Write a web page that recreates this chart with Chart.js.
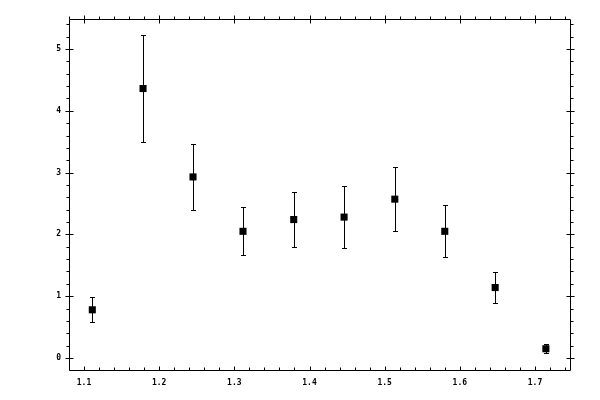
<!DOCTYPE html>
<html>
<head>
<meta charset="utf-8">
<script src="https://cdn.jsdelivr.net/npm/chart.js@4.4.1/dist/chart.umd.min.js"></script>
<style>
  html, body { margin: 0; padding: 0; background: #fff; }
  canvas { display: block; }
</style>
</head>
<body>
<canvas id="errChart" width="600" height="400"></canvas>
<script>
// data
const xVals = [1.111, 1.1785, 1.245, 1.3115, 1.379, 1.446, 1.5135, 1.580, 1.647, 1.7145];
const yVals = [0.78, 4.36, 2.93, 2.05, 2.24, 2.28, 2.57, 2.05, 1.14, 0.15];
const yErr  = [0.20, 0.87, 0.54, 0.39, 0.445, 0.495, 0.52, 0.42, 0.255, 0.07];

const xTicks = [1.1, 1.2, 1.3, 1.4, 1.5, 1.6, 1.7];
const xTickLabels = ['1.1', '1.2', '1.3', '1.4', '1.5', '1.6', '1.7'];
const yTicks = [0, 1, 2, 3, 4, 5];
const yTickLabels = ['0', '1', '2', '3', '4', '5'];
const xMinor = [1.08, 1.12, 1.14, 1.16, 1.18, 1.22, 1.24, 1.26, 1.28, 1.32, 1.34, 1.36, 1.38,
                1.42, 1.44, 1.46, 1.48, 1.52, 1.54, 1.56, 1.58, 1.62, 1.64, 1.66, 1.68, 1.72, 1.74];
const yMinor = [0.2, 0.4, 0.6, 0.8, 1.2, 1.4, 1.6, 1.8, 2.2, 2.4, 2.6, 2.8, 3.2, 3.4, 3.6, 3.8,
                4.2, 4.4, 4.6, 4.8, 5.2, 5.4];

const xMin = 1.08, xMax = 1.7466;
const yMin = -0.194, yMax = 5.485;

// error bars under the markers
const errorBars = {
  id: 'errorBars',
  beforeDatasetsDraw(chart) {
    const ctx = chart.ctx;
    const xs = chart.scales.x, ys = chart.scales.y;
    ctx.save();
    ctx.strokeStyle = '#000';
    ctx.lineWidth = 1;
    for (let i = 0; i < xVals.length; i++) {
      const px = Math.round(xs.getPixelForValue(xVals[i])) + 0.5;
      const top = Math.round(ys.getPixelForValue(yVals[i] + yErr[i])) + 0.5;
      const bot = Math.round(ys.getPixelForValue(yVals[i] - yErr[i])) + 0.5;
      ctx.beginPath();
      ctx.moveTo(px, top); ctx.lineTo(px, bot);
      ctx.moveTo(px - 2.5, top); ctx.lineTo(px + 2.5, top);
      ctx.moveTo(px - 2.5, bot); ctx.lineTo(px + 2.5, bot);
      ctx.stroke();
    }
    ctx.restore();
  }
};

// box frame + tick marks on all four sides
const frameTicks = {
  id: 'frameTicks',
  afterDraw(chart) {
    const ctx = chart.ctx;
    const a = chart.chartArea;
    const xs = chart.scales.x, ys = chart.scales.y;
    const L = Math.round(a.left) + 0.5, R = Math.round(a.right) + 0.5;
    const T = Math.round(a.top) + 0.5, B = Math.round(a.bottom) + 0.5;
    ctx.save();
    ctx.strokeStyle = '#000';
    ctx.lineWidth = 1;
    ctx.beginPath();
    ctx.rect(L, T, R - L, B - T);
    // x ticks
    xTicks.forEach(v => {
      const p = Math.round(xs.getPixelForValue(v)) + 0.5;
      ctx.moveTo(p, B); ctx.lineTo(p, B - 4);     // bottom: inside
      ctx.moveTo(p, T - 4); ctx.lineTo(p, T + 4); // top: both sides
    });
    xMinor.forEach(v => {
      const p = Math.round(xs.getPixelForValue(v)) + 0.5;
      ctx.moveTo(p, B); ctx.lineTo(p, B - 3);
      ctx.moveTo(p, T); ctx.lineTo(p, T - 3);
    });
    // y ticks
    yTicks.forEach(v => {
      const p = Math.round(ys.getPixelForValue(v)) + 0.5;
      ctx.moveTo(L - 4, p); ctx.lineTo(L + 4, p);
      ctx.moveTo(R - 4, p); ctx.lineTo(R + 4, p);
    });
    yMinor.forEach(v => {
      const p = Math.round(ys.getPixelForValue(v)) + 0.5;
      ctx.moveTo(L, p); ctx.lineTo(L - 3, p);
      ctx.moveTo(R, p); ctx.lineTo(R + 3, p);
    });
    ctx.stroke();
    ctx.restore();
  }
};

const tickFont = { family: 'DejaVu Sans Mono', size: 8, weight: 'bold' };

new Chart(document.getElementById('errChart').getContext('2d'), {
  type: 'scatter',
  data: {
    datasets: [{
      data: xVals.map((x, i) => ({ x: x, y: yVals[i] })),
      pointStyle: 'rect',
      radius: 5,
      borderWidth: 0,
      backgroundColor: '#000',
      borderColor: '#000'
    }]
  },
  options: {
    responsive: false,
    animation: false,
    layout: { padding: { left: 0, top: 19, right: 30, bottom: 0 } },
    plugins: { legend: { display: false }, tooltip: { enabled: false } },
    scales: {
      x: {
        type: 'linear', min: xMin, max: xMax,
        grid: { display: false, drawTicks: false },
        border: { display: false },
        afterBuildTicks: s => { s.ticks = xTicks.map(v => ({ value: v })); },
        afterFit: s => { s.height = 30; },
        ticks: {
          color: '#000', font: tickFont, padding: 8, maxRotation: 0, autoSkip: false,
          callback: (v, i) => xTickLabels[i]
        }
      },
      y: {
        type: 'linear', min: yMin, max: yMax,
        grid: { display: false, drawTicks: false },
        border: { display: false },
        afterBuildTicks: s => { s.ticks = yTicks.map(v => ({ value: v })); },
        afterFit: s => { s.width = 69; },
        ticks: {
          color: '#000', font: tickFont, padding: 8, autoSkip: false,
          callback: (v, i) => yTickLabels[i]
        }
      }
    }
  },
  plugins: [errorBars, frameTicks]
});
</script>
</body>
</html>
